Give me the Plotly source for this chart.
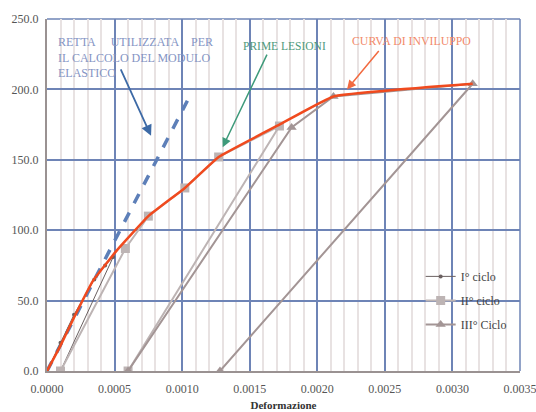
import plotly.graph_objects as go

# ---- data ----
envelope_x = [0, 0.0001, 0.0002, 0.00034, 0.00052, 0.00075, 0.00102, 0.00127, 0.00172, 0.00212, 0.00315]
envelope_y = [0, 18, 38, 64, 86, 110, 130, 152, 175, 195, 204]

retta_x = [0, 0.00105]
retta_y = [0, 194]

ciclo1_x = [0, 0.0001, 0.0002, 0.00035, 0.00043, 0.00049, 0.0001]
ciclo1_y = [0, 20, 40, 65, 75, 81, 0]

ciclo2_x = [0.0001, 0.00058, 0.00075, 0.00102, 0.00127, 0.00172, 0.0006]
ciclo2_y = [0, 87, 110, 130, 152, 174, 0]

ciclo3_x = [0.0006, 0.00181, 0.00212, 0.00315, 0.00128]
ciclo3_y = [0, 173, 195, 204, 0]

x_ticks = [0, 0.0005, 0.001, 0.0015, 0.002, 0.0025, 0.003, 0.0035]
y_ticks = [0, 50, 100, 150, 200, 250]

SERIF = "Liberation Serif, Times New Roman, serif"
GRID = "#6e84b6"

fig = go.Figure()

fig.add_trace(go.Scatter(
    x=retta_x, y=retta_y, mode="lines", showlegend=False,
    line=dict(color="#5d7fb8", width=3.5, dash="dash"), hoverinfo="skip"))

fig.add_trace(go.Scatter(
    x=ciclo1_x, y=ciclo1_y, mode="lines+markers", name="I° ciclo", legendgroup="c1",
    line=dict(color="#6a6060", width=1),
    marker=dict(symbol="circle", size=4, color="#6a6060")))

fig.add_trace(go.Scatter(
    x=ciclo2_x, y=ciclo2_y, mode="lines+markers", name="II° ciclo", legendgroup="c2",
    line=dict(color="#bdb4b4", width=2),
    marker=dict(symbol="square", size=9, color="#bdb4b4")))

fig.add_trace(go.Scatter(
    x=ciclo3_x, y=ciclo3_y, mode="lines+markers", name="III° Ciclo", legendgroup="c3",
    line=dict(color="#a39595", width=2),
    marker=dict(symbol="triangle-up", size=9, color="#a39595")))

fig.add_trace(go.Scatter(
    x=envelope_x, y=envelope_y, mode="lines", showlegend=False,
    line=dict(color="#f04a1e", width=2.5, shape="spline", smoothing=0.3),
    hoverinfo="skip"))

blue_txt = "#8494c4"
fig.add_annotation(xref="paper", yref="paper", x=0.0185, y=0.960, xanchor="left", yanchor="top",
                   text="RETTA&nbsp;&nbsp;&nbsp;&nbsp;&nbsp;UTILIZZATA&nbsp;&nbsp;&nbsp;&nbsp;PER<br>IL CALCOLO DEL MODULO<br>ELASTICO",
                   showarrow=False, align="left",
                   font=dict(family=SERIF, size=12, color=blue_txt))
fig.add_annotation(xref="paper", yref="paper", x=0.410, y=0.945, xanchor="left", yanchor="top",
                   text="PRIME LESIONI", showarrow=False,
                   font=dict(family=SERIF, size=11.5, color="#4f9a7c"))
fig.add_annotation(xref="paper", yref="paper", x=0.641, y=0.962, xanchor="left", yanchor="top",
                   text="CURVA DI INVILUPPO", showarrow=False,
                   font=dict(family=SERIF, size=11.8, color="#f28a6a"))

# arrows
fig.add_annotation(x=0.00077, y=167, xref="x", yref="y", ax=-31, ay=-68, text="",
                   showarrow=True, arrowhead=2, arrowsize=1.2, arrowwidth=1.8, arrowcolor="#3d6aa6")
fig.add_annotation(x=0.0013, y=159, xref="x", yref="y", ax=45, ay=-94, text="",
                   showarrow=True, arrowhead=2, arrowsize=1.2, arrowwidth=1.5, arrowcolor="#3e9a7a")
fig.add_annotation(x=0.00222, y=200, xref="x", yref="y", ax=33, ay=-40, text="",
                   showarrow=True, arrowhead=2, arrowsize=1.2, arrowwidth=1.5, arrowcolor="#f26a40")

# top and right frame lines (blue, like gridlines)
fig.add_shape(type="line", xref="paper", yref="paper", x0=0, x1=1, y0=1, y1=1,
              line=dict(color=GRID, width=1.5), layer="below")
fig.add_shape(type="line", xref="paper", yref="paper", x0=1, x1=1, y0=0, y1=1,
              line=dict(color=GRID, width=1.5), layer="below")

fig.update_layout(
    width=536, height=412,
    margin=dict(l=47, r=16, t=19, b=41),
    paper_bgcolor="white", plot_bgcolor="white",
    font=dict(family=SERIF, size=12, color="#555"),
    legend=dict(x=0.79, y=0.31, xanchor="left", yanchor="top",
                bgcolor="rgba(0,0,0,0)", traceorder="grouped",
                font=dict(family=SERIF, size=12, color="#444"),
                itemwidth=30, tracegroupgap=5),
)
fig.update_xaxes(
    range=[0, 0.0035001], tickvals=x_ticks, tickformat=".4f",
    showgrid=True, gridcolor=GRID, gridwidth=1.5,
    minor=dict(dtick=0.0001, showgrid=True, gridcolor="#e8e2e2", gridwidth=2),
    showline=True, linecolor="#9a9292", linewidth=2, zeroline=False,
    ticks="", ticklabelstandoff=6, ticklabeloverflow="allow", automargin=False,
    title=dict(text="<b>Deformazione</b>", font=dict(size=11, color="#333"), standoff=6),
    tickfont=dict(family=SERIF, size=12, color="#555"),
)
fig.update_yaxes(
    range=[0, 250], tickvals=y_ticks, tickformat=".1f",
    showgrid=True, gridcolor=GRID, gridwidth=1.5,
    showline=True, linecolor="#9a9292", linewidth=2, zeroline=False, automargin=False,
    ticks="", ticklabelstandoff=4, tickfont=dict(family=SERIF, size=12, color="#555"),
)

fig.write_html("out.html")
